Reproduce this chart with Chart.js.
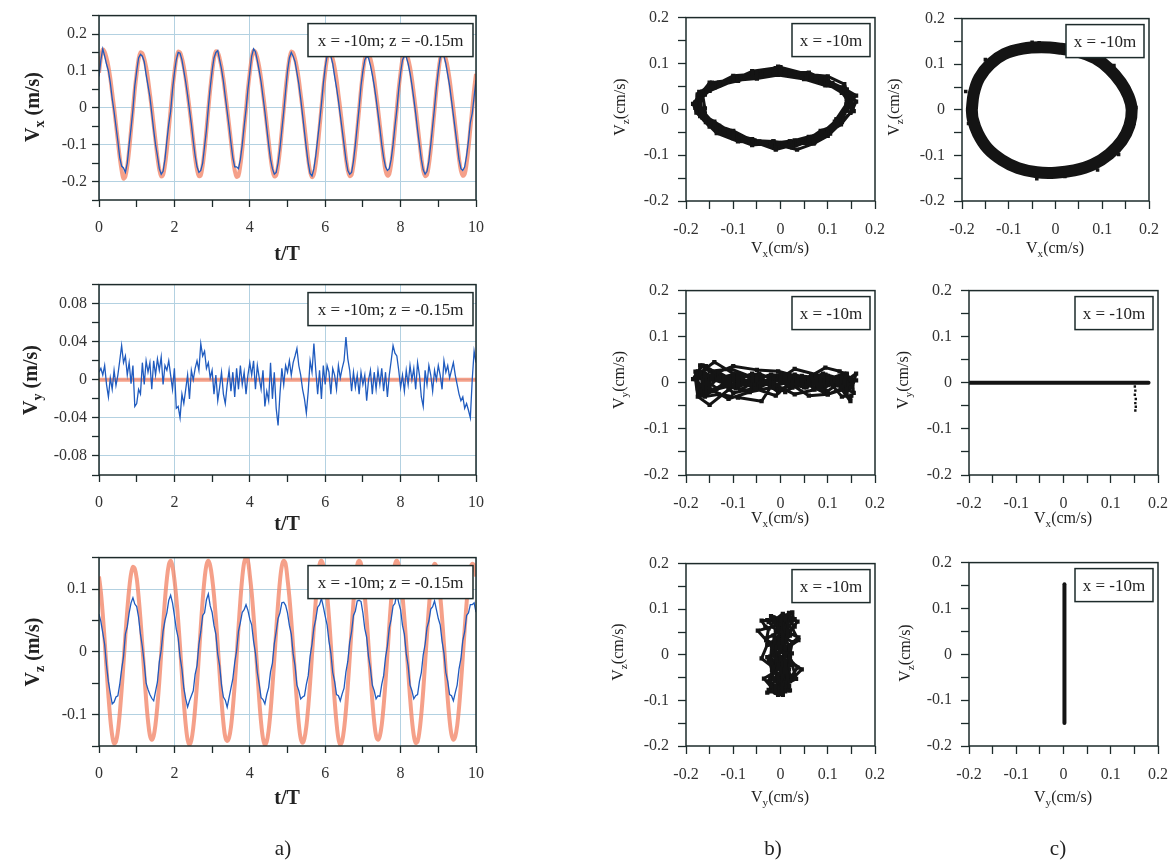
<!DOCTYPE html>
<html>
<head>
<meta charset="utf-8">
<title>Velocities at x = -10m, z = -0.15m</title>
<script src="https://cdn.jsdelivr.net/npm/chart.js@4.4.1/dist/chart.umd.min.js"></script>
<style>
	body { margin: 0; background: #fff; }
	.page { position: relative; width: 1175px; height: 864px; overflow: hidden; font-family: 'Liberation Serif', serif; color: #222; }
	.page canvas { position: absolute; }
	.lbl { position: absolute; white-space: nowrap; transform: translate(-50%, -50%); line-height: 1; }
	.lbl.rot { transform: translate(-50%, -50%) rotate(-90deg); }
	.big { font-weight: bold; font-size: 20px; }
	.small { font-size: 16px; }
	.tag { font-size: 21px; }
	sub { font-size: 0.7em; line-height: 0; }
</style>
</head>
<body>
<div class="page" id="page"></div>
<script>
// sampling step of the records, in t/T
const timeStep = 0.05;

// tick labels
const timeTicks = [0, 2, 4, 6, 8, 10];
const vxTicks = [-0.2, -0.1, 0, 0.1, 0.2];
const vyTicks = [-0.08, -0.04, 0, 0.04, 0.08];
const vzTicks = [-0.1, 0, 0.1];
const phaseTicks = [-0.2, -0.1, 0, 0.1, 0.2];

const noteTime = 'x = -10m; z = -0.15m';
const notePhase = 'x = -10m';

// Vx measured (blue), t = 0 .. 10 step 0.05
const vxMeasured = [
	0.085, 0.13, 0.16, 0.14, 0.118, 0.1, 0.068, 0.025, -0.01, -0.05, -0.09, -0.135, -0.158, -0.163, -0.175, -0.15, -0.1, -0.055, -0.005, 0.06,
	0.1, 0.135, 0.145, 0.14, 0.125, 0.09, 0.06, 0.03, -0.015, -0.06, -0.1, -0.13, -0.165, -0.18, -0.172, -0.14, -0.09, -0.045, -0.01, 0.05,
	0.095, 0.13, 0.15, 0.148, 0.13, 0.1, 0.07, 0.035, -0.005, -0.045, -0.09, -0.13, -0.16, -0.175, -0.17, -0.15, -0.105, -0.06, 0.0, 0.055,
	0.1, 0.135, 0.15, 0.155, 0.13, 0.105, 0.072, 0.03, -0.01, -0.05, -0.095, -0.135, -0.16, -0.16, -0.165, -0.14, -0.1, -0.05, -0.005, 0.05,
	0.095, 0.14, 0.16, 0.152, 0.128, 0.1, 0.07, 0.03, -0.01, -0.055, -0.1, -0.14, -0.165, -0.18, -0.175, -0.15, -0.11, -0.06, -0.01, 0.045,
	0.1, 0.135, 0.15, 0.14, 0.125, 0.095, 0.065, 0.025, -0.02, -0.065, -0.11, -0.15, -0.178, -0.185, -0.165, -0.13, -0.085, -0.04, 0.01, 0.065,
	0.11, 0.14, 0.15, 0.14, 0.12, 0.085, 0.055, 0.02, -0.02, -0.06, -0.1, -0.14, -0.17, -0.18, -0.175, -0.145, -0.1, -0.05, 0.0, 0.06,
	0.1, 0.13, 0.14, 0.135, 0.115, 0.09, 0.06, 0.025, -0.015, -0.055, -0.1, -0.135, -0.16, -0.17, -0.165, -0.14, -0.1, -0.05, -0.005, 0.05,
	0.095, 0.13, 0.14, 0.138, 0.12, 0.095, 0.062, 0.025, -0.015, -0.06, -0.1, -0.14, -0.168, -0.18, -0.172, -0.145, -0.1, -0.05, 0.0, 0.055,
	0.1, 0.135, 0.15, 0.14, 0.12, 0.09, 0.06, 0.02, -0.02, -0.06, -0.1, -0.14, -0.165, -0.17, -0.16, -0.13, -0.09, -0.04, -0.015, 0.03,
	0.075,
];

// Vx theory (orange)
const vxTheory = [
	0.095, 0.135, 0.158, 0.152, 0.135, 0.112, 0.08, 0.04, 0.0, -0.045, -0.09, -0.135, -0.17, -0.192, -0.186, -0.158, -0.115, -0.06, -0.005, 0.05,
	0.094, 0.132, 0.15, 0.148, 0.133, 0.11, 0.078, 0.038, -0.002, -0.046, -0.09, -0.134, -0.168, -0.186, -0.182, -0.155, -0.113, -0.06, -0.005, 0.05,
	0.095, 0.133, 0.152, 0.15, 0.134, 0.111, 0.079, 0.039, -0.001, -0.045, -0.09, -0.135, -0.168, -0.185, -0.183, -0.156, -0.114, -0.06, -0.004, 0.05,
	0.096, 0.134, 0.153, 0.15, 0.134, 0.11, 0.078, 0.038, -0.002, -0.046, -0.091, -0.136, -0.17, -0.187, -0.184, -0.156, -0.113, -0.059, -0.004, 0.051,
	0.096, 0.135, 0.155, 0.151, 0.135, 0.111, 0.079, 0.039, -0.001, -0.045, -0.09, -0.135, -0.169, -0.186, -0.183, -0.156, -0.114, -0.06, -0.005, 0.05,
	0.095, 0.133, 0.152, 0.149, 0.133, 0.109, 0.077, 0.036, -0.004, -0.05, -0.095, -0.14, -0.173, -0.188, -0.18, -0.15, -0.108, -0.055, 0.0, 0.053,
	0.097, 0.134, 0.151, 0.148, 0.132, 0.109, 0.077, 0.037, -0.003, -0.047, -0.092, -0.137, -0.17, -0.185, -0.182, -0.155, -0.113, -0.06, -0.005, 0.05,
	0.095, 0.132, 0.15, 0.148, 0.133, 0.11, 0.078, 0.038, -0.002, -0.047, -0.092, -0.137, -0.17, -0.184, -0.18, -0.152, -0.11, -0.057, -0.002, 0.052,
	0.096, 0.133, 0.151, 0.149, 0.133, 0.11, 0.078, 0.038, -0.002, -0.046, -0.091, -0.136, -0.17, -0.185, -0.182, -0.155, -0.113, -0.06, -0.005, 0.05,
	0.095, 0.133, 0.15, 0.148, 0.132, 0.109, 0.077, 0.037, -0.003, -0.048, -0.093, -0.138, -0.171, -0.184, -0.18, -0.152, -0.11, -0.056, -0.002, 0.05,
	0.092,
];

// Vy measured (blue)
const vyMeasured = [
	0.008, 0.012, 0.005, 0.015, -0.005, -0.018, 0.002, -0.01, 0.01, -0.006, 0.005, 0.02, 0.036, 0.018, 0.025, 0.005, 0.018, -0.004, 0.015, -0.028,
	-0.025, -0.01, -0.015, 0.018, -0.005, 0.02, 0.008, 0.018, -0.01, 0.02, 0.005, 0.022, 0.01, 0.024, -0.005, 0.015, 0.01, 0.02, 0.005, -0.01,
	0.012, -0.03, -0.028, -0.04, -0.015, -0.025, -0.01, 0.005, -0.02, 0.01, 0.0, 0.012, 0.02, 0.01, 0.038, 0.025, 0.03, 0.012, 0.018, 0.002,
	0.01, -0.015, 0.005, -0.022, -0.008, 0.008, -0.015, -0.025, -0.005, 0.01, -0.012, 0.008, -0.018, 0.012, -0.01, 0.015, -0.005, 0.008, -0.015, 0.005,
	0.018, 0.005, 0.02, -0.01, 0.015, 0.002, -0.01, 0.01, -0.028, -0.012, -0.022, 0.018, -0.02, 0.008, -0.03, -0.048, -0.015, 0.012, -0.005, 0.015,
	0.008, 0.02, 0.005, 0.018, 0.025, 0.033, 0.015, 0.005, -0.01, -0.02, -0.035, -0.012, 0.02, 0.008, 0.038, 0.01, -0.015, 0.01, -0.02, 0.015,
	-0.005, 0.015, 0.008, -0.015, 0.012, 0.005, -0.01, 0.015, 0.002, 0.012, 0.02, 0.045, 0.022, 0.01, -0.012, 0.008, -0.008, 0.005, -0.015, 0.008,
	-0.005, 0.005, -0.022, 0.0, 0.01, -0.015, 0.008, -0.01, 0.01, -0.005, 0.012, -0.012, 0.008, -0.018, 0.005, 0.02, 0.036, 0.028, 0.025, 0.01,
	-0.008, 0.005, -0.012, 0.01, -0.005, 0.015, 0.0, 0.012, -0.01, 0.018, 0.005, -0.018, -0.028, 0.01, -0.005, 0.015, 0.005, -0.012, 0.01, 0.0,
	0.015, 0.005, -0.01, 0.02, 0.008, 0.015, 0.002, 0.01, 0.018, 0.005, -0.005, -0.015, -0.022, -0.018, -0.03, -0.025, -0.032, -0.04, 0.0, 0.03,
	0.018,
];

// Vy theory (orange, flat)
const vyTheoryT = [0, 10];
const vyTheory = [0, 0];

// Vz measured (blue)
const vzMeasured = [
	0.06, 0.048, 0.03, 0.012, -0.022, -0.048, -0.066, -0.083, -0.08, -0.072, -0.07, -0.052, -0.028, -0.008, 0.028, 0.04, 0.062, 0.078, 0.086, 0.076,
	0.072, 0.055, 0.028, 0.008, -0.018, -0.05, -0.06, -0.068, -0.074, -0.078, -0.063, -0.048, -0.016, 0.003, 0.033, 0.05, 0.062, 0.082, 0.09, 0.078,
	0.058, 0.036, 0.022, -0.008, -0.028, -0.058, -0.075, -0.088, -0.078, -0.07, -0.062, -0.036, -0.022, 0.012, 0.032, 0.058, 0.062, 0.083, 0.092, 0.073,
	0.063, 0.042, 0.028, -0.004, -0.022, -0.053, -0.072, -0.077, -0.088, -0.073, -0.058, -0.043, -0.017, 0.002, 0.033, 0.047, 0.063, 0.067, 0.075, 0.066,
	0.052, 0.043, 0.017, -0.002, -0.033, -0.052, -0.073, -0.076, -0.083, -0.068, -0.057, -0.032, -0.018, 0.013, 0.032, 0.053, 0.062, 0.078, 0.079, 0.074,
	0.062, 0.042, 0.028, -0.003, -0.022, -0.053, -0.062, -0.075, -0.072, -0.07, -0.052, -0.038, -0.007, 0.012, 0.038, 0.052, 0.071, 0.075, 0.085, 0.072,
	0.057, 0.043, 0.017, -0.002, -0.033, -0.047, -0.068, -0.07, -0.078, -0.067, -0.058, -0.032, -0.015, 0.015, 0.032, 0.058, 0.065, 0.081, 0.082, 0.08,
	0.062, 0.037, 0.023, -0.008, -0.027, -0.053, -0.062, -0.075, -0.07, -0.071, -0.052, -0.038, -0.009, 0.009, 0.038, 0.052, 0.073, 0.077, 0.093, 0.078,
	0.067, 0.042, 0.028, -0.003, -0.022, -0.053, -0.062, -0.075, -0.07, -0.068, -0.047, -0.033, -0.005, 0.012, 0.038, 0.049, 0.068, 0.072, 0.081, 0.067,
	0.053, 0.043, 0.017, -0.002, -0.033, -0.047, -0.068, -0.07, -0.078, -0.065, -0.053, -0.027, -0.011, 0.018, 0.032, 0.058, 0.062, 0.075, 0.075, 0.078,
	0.063,
];

// Vz theory (orange)
const vzTheory = [
	0.12, 0.095, 0.06, 0.018, -0.027, -0.07, -0.107, -0.133, -0.146, -0.143, -0.127, -0.098, -0.061, -0.018, 0.026, 0.066, 0.1, 0.124, 0.135, 0.132,
	0.117, 0.088, 0.052, 0.01, -0.034, -0.076, -0.11, -0.133, -0.14, -0.134, -0.115, -0.085, -0.047, -0.003, 0.042, 0.083, 0.116, 0.138, 0.145, 0.136,
	0.115, 0.086, 0.05, 0.008, -0.037, -0.08, -0.116, -0.14, -0.148, -0.141, -0.121, -0.09, -0.051, -0.006, 0.04, 0.082, 0.116, 0.138, 0.145, 0.137,
	0.118, 0.09, 0.053, 0.01, -0.035, -0.078, -0.113, -0.136, -0.142, -0.137, -0.12, -0.09, -0.052, -0.008, 0.038, 0.082, 0.118, 0.142, 0.15, 0.145,
	0.122, 0.094, 0.057, 0.014, -0.032, -0.076, -0.113, -0.138, -0.148, -0.143, -0.125, -0.095, -0.056, -0.012, 0.034, 0.077, 0.113, 0.137, 0.145, 0.14,
	0.116, 0.087, 0.05, 0.007, -0.038, -0.08, -0.115, -0.138, -0.145, -0.138, -0.119, -0.088, -0.049, -0.005, 0.04, 0.082, 0.116, 0.139, 0.145, 0.138,
	0.12, 0.092, 0.055, 0.012, -0.034, -0.077, -0.113, -0.138, -0.148, -0.142, -0.123, -0.093, -0.054, -0.01, 0.036, 0.079, 0.114, 0.138, 0.145, 0.14,
	0.118, 0.089, 0.052, 0.009, -0.036, -0.078, -0.112, -0.134, -0.14, -0.134, -0.116, -0.086, -0.048, -0.004, 0.041, 0.083, 0.117, 0.139, 0.145, 0.138,
	0.116, 0.089, 0.054, 0.013, -0.03, -0.072, -0.108, -0.133, -0.145, -0.143, -0.127, -0.099, -0.062, -0.018, 0.027, 0.07, 0.105, 0.13, 0.14, 0.136,
	0.118, 0.09, 0.054, 0.012, -0.033, -0.075, -0.109, -0.132, -0.14, -0.135, -0.118, -0.089, -0.051, -0.008, 0.036, 0.077, 0.111, 0.133, 0.14, 0.138,
	0.12,
];

// theory Vx-Vz orbit (panel c, row 1), centre line of the ring
const ringX = [-0.179, -0.175, -0.163, -0.14, -0.11, -0.07, -0.03, 0.01, 0.05, 0.085, 0.115, 0.14, 0.156, 0.163,
	0.158, 0.142, 0.115, 0.08, 0.04, 0.0, -0.04, -0.08, -0.115, -0.145, -0.166, -0.177, -0.179];
const ringY = [0.0, 0.035, 0.07, 0.1, 0.122, 0.134, 0.137, 0.134, 0.127, 0.113, 0.09, 0.06, 0.03, 0.0,
	-0.035, -0.068, -0.097, -0.12, -0.133, -0.138, -0.137, -0.128, -0.11, -0.085, -0.052, -0.02, 0.0];
const ringEdgeX = [-0.192, -0.186, -0.05, -0.035, 0.125, 0.135, 0.172, 0.168, -0.04, 0.02, -0.15, 0.09];
const ringEdgeY = [0.04, -0.03, 0.148, 0.147, 0.097, -0.098, 0.005, -0.03, -0.151, -0.146, 0.11, -0.132];

// theory Vx-Vy and Vy-Vz traces (panel c, rows 2 and 3)
const c2LineX = [-0.2, 0.18];
const c2LineY = [0, 0];
const c2TailX = [0.151, 0.152, 0.151, 0.153, 0.152, 0.153, 0.152];
const c2TailY = [-0.008, -0.017, -0.026, -0.035, -0.044, -0.052, -0.06];
const c3LineX = [0.002, 0.002];
const c3LineY = [-0.15, 0.153];

const measuredColor = '#1f5bbf';
const theoryColor = 'rgba(241, 128, 98, 0.75)';
const inkColor = '#141414';
const frameColor = '#1d2b2b';
const gridColor = '#b3d1e1';

const AXIS_W = 62;
const AXIS_H = 46;
const PAD_T = 14;
const PAD_R = 22;

const asTimeSeries = function (values) {
	return values.map((v, i) => ({ x: i * timeStep, y: v }));
};
const asPairs = function (xs, ys) {
	return xs.map((x, i) => ({ x: x, y: ys[i] }));
};

const measuredLine = function (data) {
	return { data: data, showLine: true, borderColor: measuredColor, borderWidth: 1.3, pointRadius: 0, tension: 0, order: 0, clip: 0 };
};
const theoryLine = function (data) {
	return { data: data, showLine: true, borderColor: theoryColor, borderWidth: 4, pointRadius: 0, tension: 0.35, order: 1, clip: 0 };
};
const cloud = function (data) {
	return {
		data: data, showLine: true, borderColor: inkColor, borderWidth: 3, borderJoinStyle: 'round', borderCapStyle: 'round',
		pointStyle: 'rect', pointRadius: 3, pointBackgroundColor: inkColor, pointBorderWidth: 0,
	};
};
const thickLine = function (data, width) {
	return {
		data: data, showLine: true, borderColor: inkColor, borderWidth: width, pointRadius: 0,
		tension: 0.35, borderCapStyle: 'round', borderJoinStyle: 'round',
	};
};
const dots = function (data, size) {
	return { data: data, showLine: false, pointStyle: 'rect', pointRadius: size, pointBackgroundColor: inkColor, pointBorderWidth: 0 };
};

// frame around the plot area and the white note box
const framePlugin = {
	id: 'frame',
	afterDatasetsDraw(chart, args, opts) {
		const ctx = chart.ctx;
		const a = chart.chartArea;
		ctx.save();
		if (opts.note) {
			const x = a.right - opts.noteRight - opts.noteW;
			const y = a.top + opts.noteTop;
			ctx.fillStyle = '#fff';
			ctx.fillRect(x, y, opts.noteW, opts.noteH);
			ctx.strokeStyle = frameColor;
			ctx.lineWidth = 1.5;
			ctx.strokeRect(x, y, opts.noteW, opts.noteH);
			ctx.fillStyle = '#222';
			ctx.font = '17px "Liberation Serif"';
			ctx.textAlign = 'center';
			ctx.textBaseline = 'middle';
			ctx.fillText(opts.note, x + opts.noteW / 2, y + opts.noteH / 2 + 1);
		}
		ctx.strokeStyle = frameColor;
		ctx.lineWidth = 1.5;
		ctx.strokeRect(a.left, a.top, a.right - a.left, a.bottom - a.top);
		ctx.restore();
	},
};

const makeAxis = function (pos, min, max, step, labels, withGrid, tickLen, pad) {
	const isLabel = (v) => labels.some((l) => Math.abs(l - v) < 1e-6);
	return {
		type: 'linear',
		position: pos,
		min: min,
		max: max,
		afterFit(scale) {
			if (pos === 'left') scale.width = AXIS_W;
			else scale.height = AXIS_H;
		},
		border: { display: false },
		grid: {
			color: (c) => (withGrid && isLabel(c.tick.value) ? gridColor : 'rgba(0,0,0,0)'),
			lineWidth: 1,
			drawTicks: true,
			tickLength: tickLen,
			tickColor: frameColor,
			tickWidth: 1.3,
		},
		ticks: {
			stepSize: step,
			autoSkip: false,
			maxRotation: 0,
			padding: pad,
			color: '#333',
			font: { family: 'Liberation Serif', size: 16 },
			callback: (v) => (isLabel(v) ? String(parseFloat(Number(v).toFixed(2))) : ''),
		},
	};
};

const timeAxis = () => makeAxis('bottom', 0, 10, 1, timeTicks, true, 7, 11);
const phaseX = () => makeAxis('bottom', -0.2, 0.2, 0.05, phaseTicks, false, 8, 11);
const phaseY = () => makeAxis('left', -0.2, 0.2, 0.05, phaseTicks, false, 8, 9);

const timeNote = { note: noteTime, noteW: 165, noteH: 33, noteRight: 3, noteTop: 8 };
const phaseNote = { note: notePhase, noteW: 78, noteH: 33, noteRight: 5, noteTop: 6 };

const panels = [
	// a) time series
	{ area: { l: 99, t: 15, r: 476, b: 200 }, x: timeAxis(), y: makeAxis('left', -0.25, 0.25, 0.05, vxTicks, true, 7, 5), note: timeNote,
		datasets: [measuredLine(asTimeSeries(vxMeasured)), theoryLine(asTimeSeries(vxTheory))] },
	{ area: { l: 99, t: 284, r: 476, b: 475 }, x: timeAxis(), y: makeAxis('left', -0.1, 0.1, 0.02, vyTicks, true, 7, 5), note: timeNote,
		datasets: [measuredLine(asTimeSeries(vyMeasured)), theoryLine(asPairs(vyTheoryT, vyTheory))] },
	{ area: { l: 99, t: 557, r: 476, b: 746 }, x: timeAxis(), y: makeAxis('left', -0.15, 0.15, 0.05, vzTicks, true, 7, 5), note: timeNote,
		datasets: [measuredLine(asTimeSeries(vzMeasured)), theoryLine(asTimeSeries(vzTheory))] },
	// b) measured hodographs
	{ area: { l: 686, t: 13, r: 875, b: 201 }, x: phaseX(), y: phaseY(), note: phaseNote,
		datasets: [cloud(asPairs(vxMeasured, vzMeasured))] },
	{ area: { l: 686, t: 286, r: 875, b: 475 }, x: phaseX(), y: phaseY(), note: phaseNote,
		datasets: [cloud(asPairs(vxMeasured, vyMeasured))] },
	{ area: { l: 686, t: 559, r: 875, b: 746 }, x: phaseX(), y: phaseY(), note: phaseNote,
		datasets: [cloud(asPairs(vyMeasured, vzMeasured))] },
	// c) theory hodographs
	{ area: { l: 962, t: 14, r: 1149, b: 201 }, x: phaseX(), y: phaseY(), note: phaseNote,
		datasets: [thickLine(asPairs(ringX, ringY), 12), dots(asPairs(ringEdgeX, ringEdgeY), 2.5)] },
	{ area: { l: 969, t: 286, r: 1158, b: 475 }, x: phaseX(), y: phaseY(), note: phaseNote,
		datasets: [thickLine(asPairs(c2LineX, c2LineY), 4), dots(asPairs(c2TailX, c2TailY), 1.7)] },
	{ area: { l: 969, t: 558, r: 1158, b: 746 }, x: phaseX(), y: phaseY(), note: phaseNote,
		datasets: [thickLine(asPairs(c3LineX, c3LineY), 4)] },
];

// axis titles and panel letters (html, for the subscripts)
const titles = [
	['V<sub>x</sub> (m/s)', 32, 107, 'big rot'], ['t/T', 287, 253, 'big'],
	['V<sub>y</sub> (m/s)', 30, 380, 'big rot'], ['t/T', 287, 523, 'big'],
	['V<sub>z</sub> (m/s)', 32, 652, 'big rot'], ['t/T', 287, 797, 'big'],
	['a)', 283, 848, 'tag'],
	['V<sub>z</sub>(cm/s)', 620, 107, 'small rot'], ['V<sub>x</sub>(cm/s)', 780, 248, 'small'],
	['V<sub>y</sub>(cm/s)', 619, 380, 'small rot'], ['V<sub>x</sub>(cm/s)', 780, 518, 'small'],
	['V<sub>z</sub>(cm/s)', 618, 652, 'small rot'], ['V<sub>y</sub>(cm/s)', 780, 797, 'small'],
	['b)', 773, 848, 'tag'],
	['V<sub>z</sub>(cm/s)', 894, 107, 'small rot'], ['V<sub>x</sub>(cm/s)', 1055, 248, 'small'],
	['V<sub>y</sub>(cm/s)', 903, 380, 'small rot'], ['V<sub>x</sub>(cm/s)', 1063, 518, 'small'],
	['V<sub>z</sub>(cm/s)', 905, 653, 'small rot'], ['V<sub>y</sub>(cm/s)', 1063, 797, 'small'],
	['c)', 1058, 848, 'tag'],
];

const makeChart = function (page, spec) {
	const a = spec.area;
	const canvas = document.createElement('canvas');
	canvas.width = a.r - a.l + AXIS_W + PAD_R;
	canvas.height = a.b - a.t + PAD_T + AXIS_H;
	canvas.style.left = a.l - AXIS_W + 'px';
	canvas.style.top = a.t - PAD_T + 'px';
	page.appendChild(canvas);
	new Chart(canvas, {
		type: 'scatter',
		data: { datasets: spec.datasets },
		options: {
			responsive: false,
			animation: false,
			events: [],
			layout: { padding: { top: PAD_T, right: PAD_R, left: 0, bottom: 0 } },
			plugins: { legend: { display: false }, tooltip: { enabled: false }, frame: spec.note },
			scales: { x: spec.x, y: spec.y },
		},
		plugins: [framePlugin],
	});
};

const init = function () {
	const page = document.querySelector('#page');
	for (const spec of panels) makeChart(page, spec);
	for (const [html, x, y, cls] of titles) {
		const el = document.createElement('div');
		el.className = 'lbl ' + cls;
		el.innerHTML = html;
		el.style.left = x + 'px';
		el.style.top = y + 'px';
		page.appendChild(el);
	}
};
document.addEventListener('DOMContentLoaded', init);
</script>
</body>
</html>
